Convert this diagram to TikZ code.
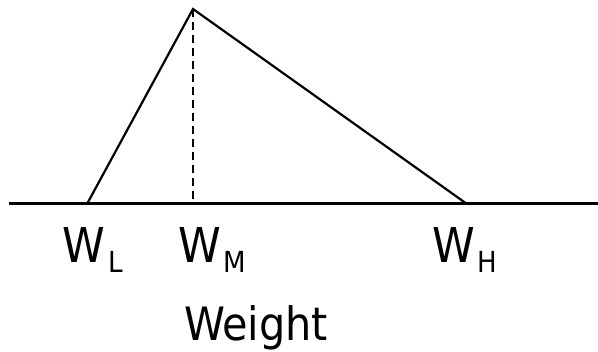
\documentclass[tikz,border=0pt]{standalone}
\usepackage{fontspec}
\setmainfont{DejaVu Sans Condensed}
\newcommand{\lbl}[2]{\fontsize{48}{48}\selectfont #1\hspace{3pt}\raisebox{-10pt}{\fontsize{29}{29}\selectfont #2}}
\begin{document}
\begin{tikzpicture}[x=1pt,y=-1pt,
  lbltext/.style={anchor=base west,inner sep=0pt,outer sep=0pt},
  tri/.style={line width=2.2pt,line join=miter},
  axis/.style={line width=3pt}]
\useasboundingbox (0,0) rectangle (598,352);
\coordinate (A0) at (9,204);
\coordinate (A1) at (598,204);
\coordinate (L) at (87,204);
\coordinate (P) at (193,9);
\coordinate (H) at (467,204);
\coordinate (M) at (193,202);
\draw[axis] (A0) -- (A1);
\draw[tri] (L) -- (P) -- (H);
\draw[tri,dash pattern=on 8pt off 5pt] (P) -- (M);
\node[lbltext] (wl) at (63,263) {\lbl{W}{L}};
\node[lbltext] (wm) at (178,263) {\lbl{W}{M}};
\node[lbltext] (wh) at (432,263) {\lbl{W}{H}};
\node[lbltext] (wt) at (184,341) {\fontsize{46}{46}\selectfont Weight};
\end{tikzpicture}
\end{document}
